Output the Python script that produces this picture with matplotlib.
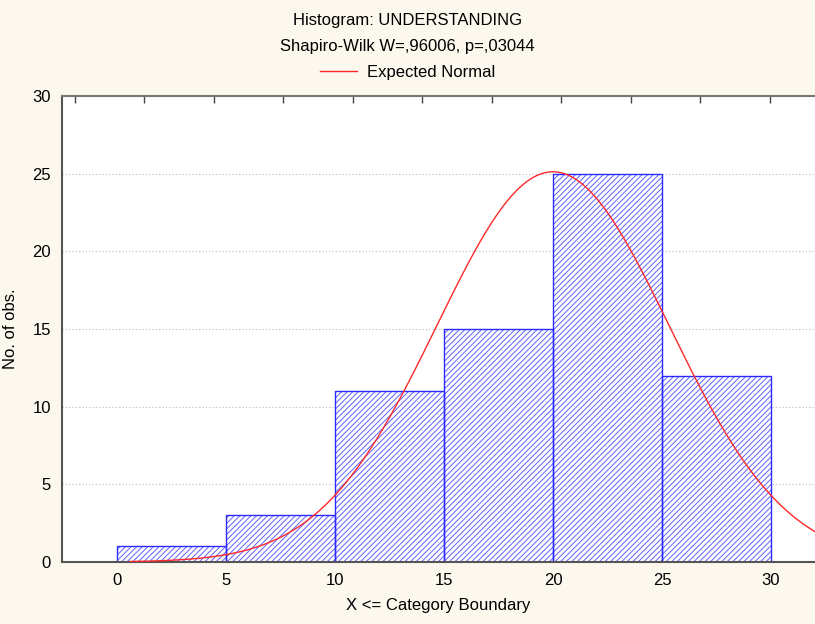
import numpy as np
import matplotlib.pyplot as plt

plt.rcParams['font.family'] = ['Liberation Sans', 'DejaVu Sans']
plt.rcParams['hatch.linewidth'] = 0.7

# histogram data
bin_edges = [0, 5, 10, 15, 20, 25, 30]
counts = [1, 3, 11, 15, 25, 12]

# expected normal parameters
norm_mean = 20.0
norm_sd = 5.32
curve_start = 0.6
curve_end = 33.0

title = "Histogram: UNDERSTANDING"
subtitle = "Shapiro-Wilk W=,96006, p=,03044"
y_ticks = [0, 5, 10, 15, 20, 25, 30]
x_ticks = [0, 5, 10, 15, 20, 25, 30]

bg = '#fdf8ee'
fig = plt.figure(figsize=(8.15, 6.24), dpi=100, facecolor=bg)
ax = fig.add_axes([62 / 815, 62 / 624, (815 - 62) / 815, 466 / 624])
ax.set_facecolor('white')

widths = np.diff(bin_edges)
# hatch layer, then the bar outlines on top
ax.bar(bin_edges[:-1], counts, width=widths, align='edge', color='white',
       edgecolor='#6060ff', linewidth=0, hatch='//////', zorder=2)
ax.bar(bin_edges[:-1], counts, width=widths, align='edge', fill=False,
       edgecolor='#2a2aff', linewidth=1.0, zorder=2.5)

n_obs = sum(counts)
bw = widths[0]
xs = np.linspace(curve_start, curve_end, 400)
ys = n_obs * bw / (norm_sd * np.sqrt(2 * np.pi)) * np.exp(-0.5 * ((xs - norm_mean) / norm_sd) ** 2)
line, = ax.plot(xs, ys, color='#ff2828', lw=1.0, zorder=3, label='Expected Normal')

ax.set_xlim(-2.52, 32.02)
ax.set_ylim(0, 30)
ax.set_xticks(x_ticks)
ax.set_yticks(y_ticks)
ax.tick_params(length=0, labelsize=12, pad=8)
ax.yaxis.grid(True, linestyle=(0, (1, 2)), color='#bbbbbb', lw=0.8)
ax.set_axisbelow(True)

for s in ['left', 'bottom']:
    ax.spines[s].set_color('#555555')
    ax.spines[s].set_linewidth(1.5)
ax.spines['top'].set_color('#777777')
ax.spines['top'].set_linewidth(1.5)
ax.spines['right'].set_visible(False)

# top axis ticks (inward)
top = ax.secondary_xaxis('top')
top.set_xticks(np.linspace(-1.93, 29.95, 11))
top.tick_params(direction='in', length=5, width=1, color='#444444', labeltop=False)
top.spines['top'].set_visible(False)

ax.set_xlabel('X <= Category Boundary', fontsize=12, labelpad=7)
ax.set_ylabel('No. of obs.', fontsize=12, labelpad=10)

fig.text(0.5, 1 - 20 / 624, title, ha='center', va='center', fontsize=12)
fig.text(0.5, 1 - 46 / 624, subtitle, ha='center', va='center', fontsize=12)
fig.legend(handles=[line], loc='center', bbox_to_anchor=(0.5, 1 - 72 / 624),
           frameon=False, fontsize=12, handlelength=2.2, handletextpad=0.6)

fig.savefig('out.png', dpi=100, facecolor=bg)
